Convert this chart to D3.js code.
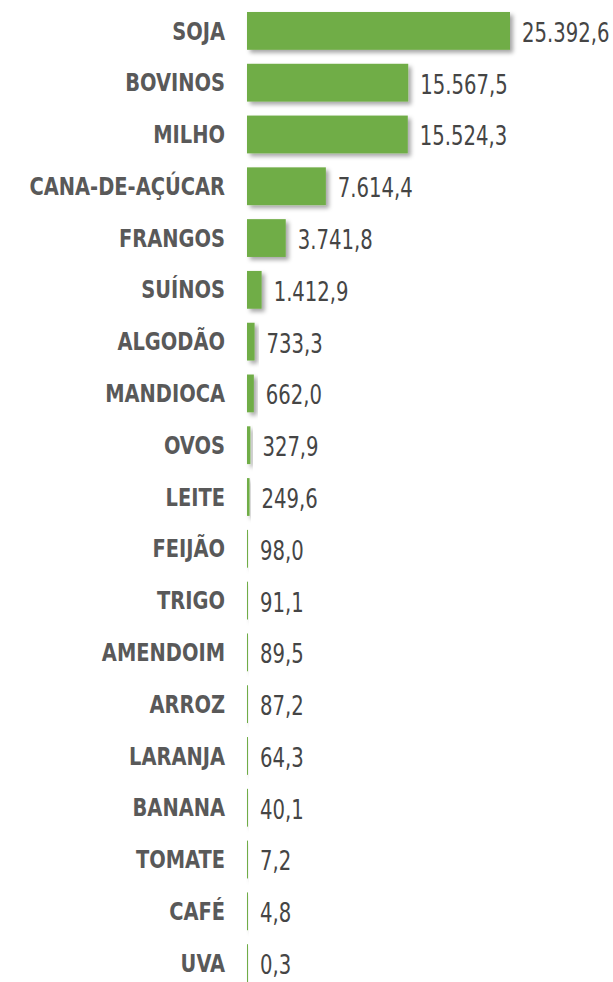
<!DOCTYPE html>
<html>
<head>
<meta charset="utf-8">
<script src="https://d3js.org/d3.v7.min.js"></script>
<style>
body{ margin:0; background:#fff; }
.label{ font-family:"DejaVu Sans Condensed","DejaVu Sans",sans-serif; font-weight:bold; font-size:24px; fill:#595959; }
.value{ font-family:"DejaVu Sans Condensed","DejaVu Sans",sans-serif; font-size:26px; fill:#454545; }
</style>
</head>
<body>
<svg class="chart"></svg>
<script>
// data
var categories = ["SOJA","BOVINOS","MILHO","CANA-DE-AÇÚCAR","FRANGOS","SUÍNOS","ALGODÃO","MANDIOCA","OVOS","LEITE",
                  "FEIJÃO","TRIGO","AMENDOIM","ARROZ","LARANJA","BANANA","TOMATE","CAFÉ","UVA"];
var values = [25392.6,15567.5,15524.3,7614.4,3741.8,1412.9,733.3,662.0,327.9,249.6,
              98.0,91.1,89.5,87.2,64.3,40.1,7.2,4.8,0.3];

var width = 613, height = 982;

var ptBR = d3.formatLocale({decimal: ",", thousands: ".", grouping: [3], currency: ["R$", ""]});
var fmt = ptBR.format(",.1f");

var svg = d3.select(".chart")
    .attr("width", width)
    .attr("height", height);

// drop shadow like the original
var filt = svg.append("defs").append("filter")
    .attr("id", "shadow")
    .attr("x", "-50%").attr("y", "-20%")
    .attr("width", "200%").attr("height", "150%");
filt.append("feDropShadow")
    .attr("dx", 3).attr("dy", 3)
    .attr("stdDeviation", 2)
    .attr("flood-color", "#000")
    .attr("flood-opacity", 0.35);

var x = d3.scaleLinear()
    .domain([0, d3.max(values)])
    .range([247, 510]);

var y = d3.scaleBand()
    .domain(categories)
    .range([5, 989])
    .paddingInner(0.27)
    .paddingOuter(0.135);

var rows = svg.selectAll(".row")
    .data(categories)
    .enter().append("g")
    .attr("class", "row");

rows.append("rect")
    .attr("x", x(0))
    .attr("y", function(d){ return y(d); })
    .attr("height", y.bandwidth())
    .attr("width", function(d, i){ return Math.max(1, x(values[i]) - x(0)); })
    .attr("fill", "#70ad47")
    .attr("filter", "url(#shadow)");

// condensed look: squeeze text horizontally
rows.append("text")
    .attr("class", "label")
    .attr("transform", function(d){
        return "translate(" + (x(0) - 22) + "," + (y(d) + y.bandwidth() / 2) + ") scale(0.9,1)";
    })
    .attr("dy", "0.36em")
    .attr("text-anchor", "end")
    .text(function(d){ return d; });

rows.append("text")
    .attr("class", "value")
    .attr("transform", function(d, i){
        var vx = Math.max(x(values[i]), x(0) + 1) + 12;
        return "translate(" + vx + "," + (y(d) + y.bandwidth() / 2) + ") scale(0.84,1)";
    })
    .attr("dy", "0.42em")
    .text(function(d, i){ return fmt(values[i]); });
</script>
</body>
</html>
